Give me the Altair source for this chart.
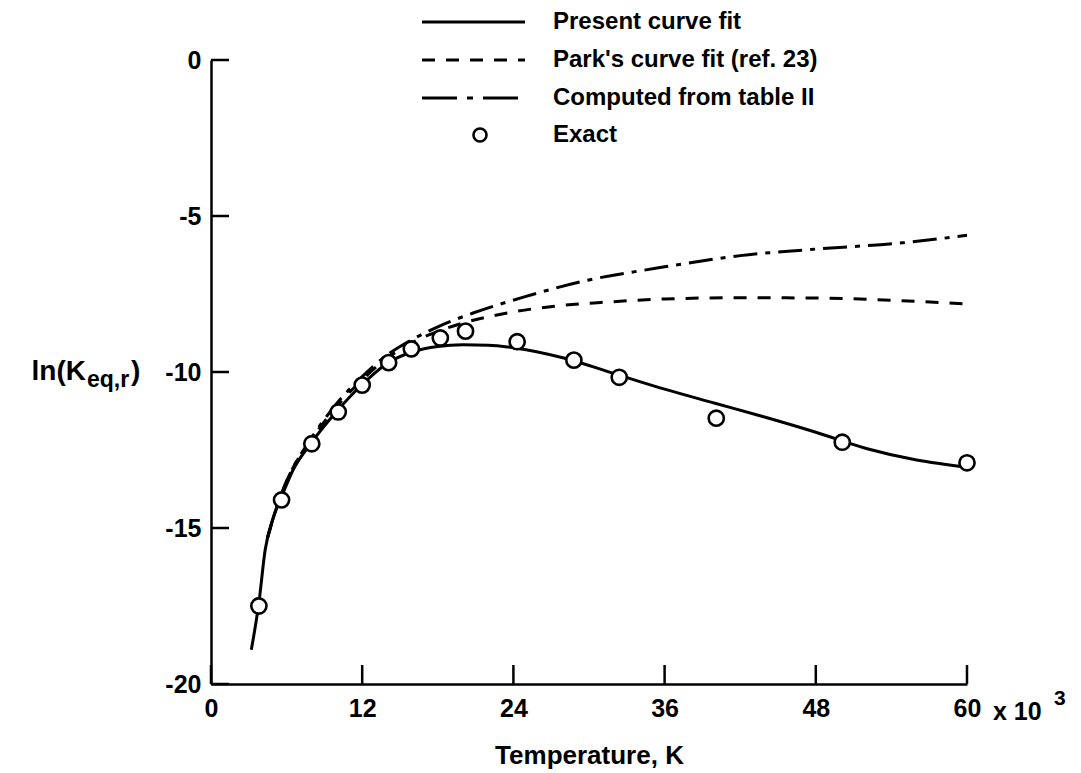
import altair as alt
import pandas as pd

# Temperature in units of 10^3 K, ln(K_eq,r)
exact_T = [3.8, 5.6, 8.0, 10.1, 12.0, 14.1, 15.9, 18.2, 20.2, 24.3, 28.8, 32.4, 40.1, 50.1, 60.0]
exact_lnK = [-17.5, -14.1, -12.3, -11.28, -10.42, -9.70, -9.26, -8.91, -8.69, -9.03, -9.62, -10.17, -11.48, -12.25, -12.91]

present_T = [3.2, 3.8, 4.3, 5.0, 5.6, 6.5, 8, 10, 12, 14, 16, 18, 20, 22, 24, 28, 32, 36, 40, 44, 48, 52, 56, 60]
present_lnK = [-18.9, -17.4, -15.7, -14.6, -14.0, -13.15, -12.25, -11.25, -10.4, -9.72, -9.35, -9.18, -9.13,
               -9.14, -9.22, -9.55, -10.05, -10.55, -11.0, -11.45, -11.93, -12.45, -12.82, -13.05]

park_T = [4.5, 5, 6, 8, 10, 12, 14, 16, 18, 20, 23.5, 27.5, 31.4, 36, 42, 48, 54, 60]
park_lnK = [-15.3, -14.6, -13.5, -12.15, -11.1, -10.25, -9.55, -9.05, -8.7, -8.43, -8.11, -7.88, -7.76,
            -7.66, -7.62, -7.63, -7.7, -7.82]

table_T = [4.5, 5, 6, 8, 10, 12, 14, 16, 18, 20.8, 24.8, 30, 35.4, 42, 48, 54.9, 58, 60]
table_lnK = [-15.3, -14.6, -13.5, -12.1, -11.0, -10.15, -9.45, -8.95, -8.55, -8.11, -7.6, -7.05, -6.67,
             -6.27, -6.06, -5.86, -5.72, -5.62]

x_ticks = [0, 12, 24, 36, 48, 60]
y_ticks = [0, -5, -10, -15, -20]

legend_labels = ["Present curve fit", "Park's curve fit (ref. 23)", "Computed from table II", "Exact"]

W, H = 756, 624
FONT = "Liberation Sans"
FS = 24
TFS = 25

xscale = alt.Scale(domain=[0, 60], nice=False, zero=False)
yscale = alt.Scale(domain=[-20, 0], nice=False, zero=False)

def line_df(t, v):
    return pd.DataFrame({"T": t, "lnK": v})

X = alt.X("T:Q", scale=xscale, axis=alt.Axis(values=x_ticks, title="Temperature, K", ticks=False,
                                              labelExpr="toString(datum.value)",
                                              labelFont=FONT, labelFontSize=TFS, labelFontWeight="bold",
                                              labelPadding=12, titleFont=FONT, titleFontSize=26,
                                              titleFontWeight="bold", titlePadding=21, labelFlush=False,
                                              domainColor="black", domainWidth=2.5, grid=False,
                                              labelColor="black", titleColor="black"))
Y = alt.Y("lnK:Q", scale=yscale, axis=alt.Axis(values=y_ticks, title=None, ticks=False,
                                                labelExpr="toString(datum.value)",
                                                labelFont=FONT, labelFontSize=TFS, labelFontWeight="bold",
                                                labelPadding=10, domainColor="black", domainWidth=2.5,
                                                grid=False, labelColor="black", labelFlush=False))

present = alt.Chart(line_df(present_T, present_lnK)).mark_line(
    color="black", strokeWidth=3, interpolate="monotone").encode(x=X, y=Y)
park = alt.Chart(line_df(park_T, park_lnK)).mark_line(
    color="black", strokeWidth=3, strokeDash=[13, 11], interpolate="monotone").encode(x="T:Q", y="lnK:Q")
table = alt.Chart(line_df(table_T, table_lnK)).mark_line(
    color="black", strokeWidth=3, strokeDash=[24, 8, 5, 8], interpolate="monotone").encode(x="T:Q", y="lnK:Q")
exact = alt.Chart(line_df(exact_T, exact_lnK)).mark_point(
    shape="circle", size=230, filled=True, fill="white", stroke="black", strokeWidth=2.6, opacity=1
).encode(x="T:Q", y="lnK:Q")

xt = alt.Chart(pd.DataFrame({"T": x_ticks})).mark_rule(color="black", strokeWidth=2.5).encode(
    x="T:Q", y=alt.value(H), y2=alt.value(H - 19))
yt = alt.Chart(pd.DataFrame({"lnK": y_ticks})).mark_rule(color="black", strokeWidth=2.5).encode(
    y="lnK:Q", x=alt.value(0), x2=alt.value(18))

layers = [present, park, table, xt, yt, exact]

# legend
row_y = [-38, 0, 38, 75]
dashes = [None, [13, 11], [35, 10, 6, 10], None]
ends = [314, 314, 307, None]
for i, lab in enumerate(legend_labels):
    layers.append(alt.Chart(pd.DataFrame({"l": [lab]})).mark_text(
        font=FONT, fontSize=FS, fontWeight="bold", align="left", baseline="middle", color="black"
    ).encode(text="l:N", x=alt.value(342), y=alt.value(row_y[i])))
    if i < 3:
        kw = {"strokeDash": dashes[i]} if dashes[i] else {}
        layers.append(alt.Chart(pd.DataFrame({"l": [lab]})).mark_rule(
            color="black", strokeWidth=3, **kw
        ).encode(x=alt.value(211), x2=alt.value(ends[i]), y=alt.value(row_y[i])))
    else:
        layers.append(alt.Chart(pd.DataFrame({"l": [lab]})).mark_point(
            shape="circle", size=170, stroke="black", strokeWidth=2.6, fill="white", filled=True, opacity=1
        ).encode(x=alt.value(269), y=alt.value(row_y[i])))

# y title with subscript
ytitle = [("ln(K", 28, -125, 0, "right"), ("eq,r", 23, -124, 8, "left"), (")", 28, -80, 0, "left")]
for txt, fs, xx, dy, al in ytitle:
    layers.append(alt.Chart(pd.DataFrame({"l": [txt]})).mark_text(
        font=FONT, fontSize=fs, fontWeight="bold", align=al, baseline="middle", color="black"
    ).encode(text="l:N", x=alt.value(xx), y=alt.value(312 + dy)))

# x 10^3 multiplier
for txt, fs, xx, yy in [("x 10", TFS, 782, 652), ("3", 21, 843, 639)]:
    layers.append(alt.Chart(pd.DataFrame({"l": [txt]})).mark_text(
        font=FONT, fontSize=fs, fontWeight="bold", align="left", baseline="middle", color="black"
    ).encode(text="l:N", x=alt.value(xx), y=alt.value(yy)))

chart = alt.layer(*layers).properties(
    width=W, height=H,
    autosize=alt.AutoSizeParams(type="none"),
    padding={"left": 211, "top": 60, "right": 114, "bottom": 89},
    background="white",
).configure_view(stroke=None)

chart.save("out.html", embed_options={"renderer": "svg", "actions": False})
